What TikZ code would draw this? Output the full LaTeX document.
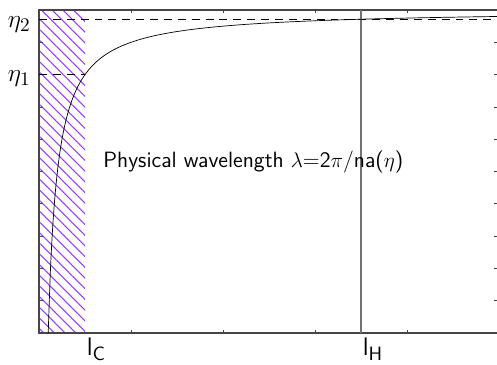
\documentclass[tikz,border=0pt]{standalone}
\usepackage{amsmath}
\usepackage{xcolor}
\usepackage{tikz}
\usetikzlibrary{patterns.meta}
\definecolor{hatchviolet}{RGB}{150,60,250}
\definecolor{framegray}{RGB}{70,70,70}

\begin{document}
\begin{tikzpicture}[x=1.84cm, y=0.646cm]
  \useasboundingbox (-0.424,-0.96) rectangle (4.978,10.31);
  % Hatched strip left of l_C
  \fill[pattern={Lines[angle=-45, distance=4.3pt, line width=0.6pt]},
        pattern color=hatchviolet] (0,0) rectangle (0.5,10);
  % Frame and ticks
  \draw[framegray, line width=0.6pt] (0,0) rectangle (5,10);
  \foreach \u in {1,...,4} {
    \draw[framegray, thin] (\u,0) -- ++(0,0.09);
    \draw[framegray, thin] (\u,10) -- ++(0,-0.09);
  }
  \foreach \v in {1,...,9} {
    \draw[framegray, thin] (0,\v) -- ++(0.045,0);
    \draw[framegray, thin] (5,\v) -- ++(-0.055,0);
  }
  % Levels eta_1 and eta_2
  \draw[dash pattern=on 4.5pt off 3.4pt, thin] (0,9.714) -- (5,9.714);
  \draw[dash pattern=on 4.5pt off 3.4pt, thin] (0,8) -- (0.5,8);
  % Horizon l_H
  \draw[gray!90!black, line width=0.8pt] (3.5,0) -- (3.5,10);
  % Physical wavelength curve
  \draw[thin, domain=0.1:5, samples=200, smooth] plot (\x, {10-1/\x});
  % Labels
  \node[anchor=base east, inner sep=0, font=\fontsize{15}{15}\selectfont]
    (etatwo) at ([xshift=-0.16cm, yshift=-0.16cm]0,9.714) {$\eta_2$};
  \node[anchor=base east, inner sep=0, font=\fontsize{15}{15}\selectfont]
    (etaone) at ([xshift=-0.16cm, yshift=-0.14cm]0,8) {$\eta_1$};
  \node[anchor=north west, inner sep=0, font=\fontsize{15}{15}\selectfont]
    (lC) at ([xshift=0.03cm, yshift=-0.1cm]0.5,0) {$\mathsf{l}_{\mathsf{C}}$};
  \node[anchor=north west, inner sep=0, font=\fontsize{15}{15}\selectfont]
    (lH) at ([xshift=0.03cm, yshift=-0.1cm]3.5,0) {$\mathsf{l}_{\mathsf{H}}$};
  \node[anchor=base west, inner sep=0, font=\sffamily\fontsize{12.6}{13}\selectfont]
    (wavelength) at (0.696,5.11) {Physical wavelength $\lambda$=2$\pi$/na($\eta$)};
\end{tikzpicture}
\end{document}
